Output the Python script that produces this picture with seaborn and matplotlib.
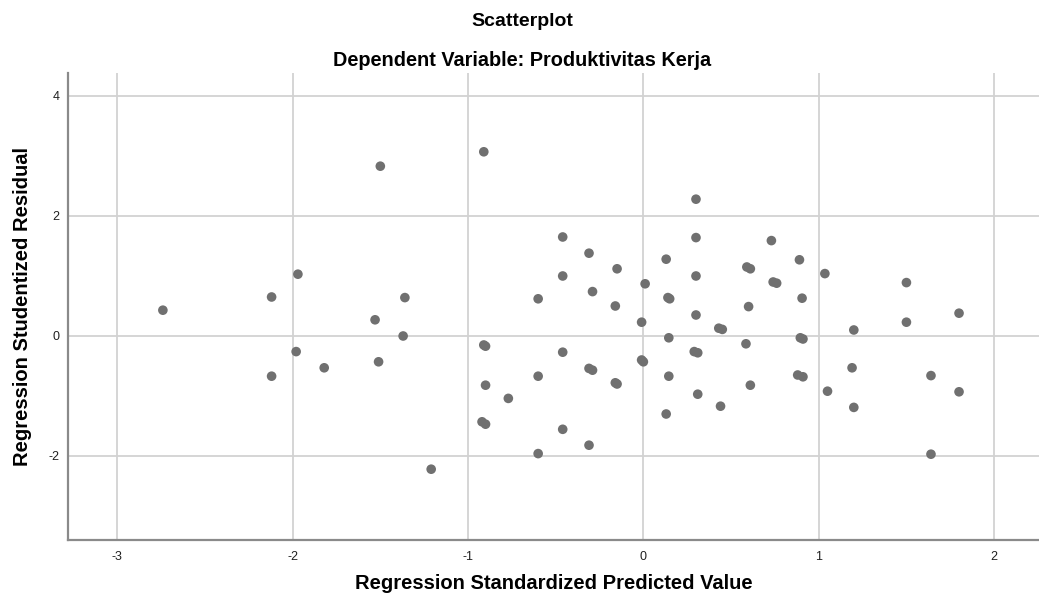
import numpy as np
import pandas as pd
import matplotlib
matplotlib.use("Agg")
from matplotlib import pyplot as plt
import seaborn as sns

# standardized predicted value vs studentized residual
pred = [-2.74, -2.12, -2.12, -1.97, -1.98, -1.82, -1.50, -1.53, -1.51, -1.36,
        -1.37, -1.21, -0.91, -0.91, -0.90, -0.90, -0.92, -0.90, -0.77, -0.60,
        -0.60, -0.60, -0.46, -0.46, -0.46, -0.46, -0.31, -0.29, -0.31, -0.29,
        -0.31, -0.15, -0.16, -0.16, -0.15, 0.01, -0.01, -0.01, 0.00, 0.13,
        0.14, 0.15, 0.145, 0.145, 0.13, 0.30, 0.30, 0.30, 0.30, 0.29,
        0.31, 0.31, 0.43, 0.45, 0.44, 0.59, 0.61, 0.60, 0.585, 0.61,
        0.73, 0.74, 0.76, 0.89, 0.905, 0.895, 0.91, 0.88, 0.91, 1.035,
        1.05, 1.20, 1.19, 1.20, 1.50, 1.50, 1.64, 1.64, 1.80, 1.80]
resid = [0.43, 0.65, -0.67, 1.03, -0.26, -0.53, 2.83, 0.27, -0.43, 0.64,
         0.00, -2.22, 3.07, -0.15, -0.17, -0.82, -1.43, -1.47, -1.04, 0.62,
         -0.67, -1.96, 1.65, 1.00, -0.27, -1.555, 1.38, 0.74, -0.54, -0.57,
         -1.82, 1.12, 0.50, -0.78, -0.80, 0.87, 0.23, -0.40, -0.43, 1.28,
         0.64, 0.62, -0.03, -0.67, -1.30, 2.28, 1.64, 1.00, 0.35, -0.26,
         -0.28, -0.97, 0.13, 0.11, -1.17, 1.15, 1.12, 0.49, -0.13, -0.82,
         1.59, 0.90, 0.88, 1.27, 0.63, -0.03, -0.05, -0.65, -0.68, 1.04,
         -0.92, 0.10, -0.53, -1.19, 0.89, 0.23, -0.66, -1.97, 0.38, -0.93]

xticks = [-3, -2, -1, 0, 1, 2]
yticks = [-2, 0, 2, 4]

df = pd.DataFrame({"pred": pred, "resid": resid})

sns.set_theme(style="white")
plt.rcParams['font.family'] = ['Liberation Sans', 'DejaVu Sans']
plt.rcParams['axes.unicode_minus'] = False

fig = plt.figure(figsize=(10.39, 6.06), dpi=100)
ax = fig.add_axes([68 / 1039, 1 - 540 / 606, (1039 - 68) / 1039, (540 - 73) / 606])

sns.scatterplot(data=df, x="pred", y="resid", ax=ax, color="#707070",
                s=48, edgecolor="none", zorder=3)

ax.set_xlim(-3.281, 2.256)
ax.set_ylim(-3.4, 4.383)
ax.set_xticks(xticks)
ax.set_yticks(yticks)
ax.grid(True, color="#d2d2d2", linewidth=1.3)
ax.tick_params(length=0, labelsize=9, colors="#202020")
ax.tick_params(axis="x", pad=8)
ax.tick_params(axis="y", pad=6)

for side in ["top", "right"]:
    ax.spines[side].set_visible(False)
for side in ["left", "bottom"]:
    ax.spines[side].set_color("#8a8a8a")
    ax.spines[side].set_linewidth(1.6)

ax.set_xlabel("Regression Standardized Predicted Value", fontsize=14.5,
              fontweight="bold", color="black", labelpad=8)
ax.set_ylabel("Regression Studentized Residual", fontsize=14.5,
              fontweight="bold", color="black", labelpad=12)

# titles sit a bit left of the axes centre, like SPSS puts them
cx = 522 / 1039
fig.text(cx, 1 - 22 / 606, "Scatterplot", ha="center", va="center",
         fontsize=14, fontweight="bold", color="black")
fig.text(cx, 1 - 61 / 606, "Dependent Variable: Produktivitas Kerja",
         ha="center", va="center", fontsize=14.3, fontweight="bold", color="black")

fig.savefig("out.png", dpi=100)
